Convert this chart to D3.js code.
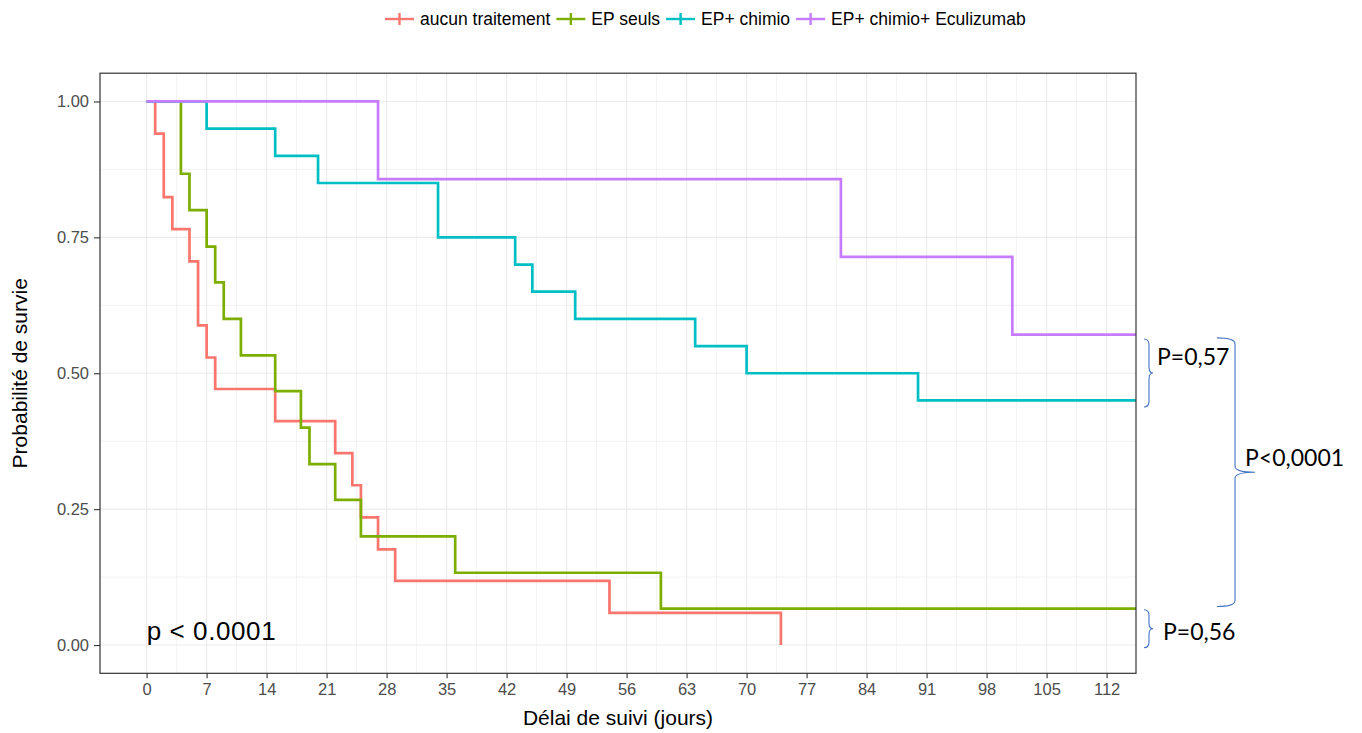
<!DOCTYPE html>
<html>
<head>
<meta charset="utf-8">
<script src="https://cdn.jsdelivr.net/npm/d3@7.9.0/dist/d3.min.js"></script>
<style>
  body { margin: 0; background: #fff; }
  svg { display: block; font-family: "Liberation Sans", Arial, sans-serif; }
</style>
</head>
<body>
<svg id="chart" width="1362" height="733"></svg>
<script>
// groupes (ordre du facteur) et couleurs ggplot
const groups = ['aucun traitement', 'EP seuls', 'EP+ chimio', 'EP+ chimio+ Eculizumab'];
const colors = ['#F8766D', '#7CAE00', '#00BFC4', '#C77CFF'];

// courbes de Kaplan-Meier : temps (jours) et survie
const timesNone = [0, 1, 2, 3, 5, 6, 7, 8, 15, 22, 24, 25, 27, 29, 54, 74];
const survNone  = [1, 0.941, 0.824, 0.765, 0.706, 0.588, 0.529, 0.471, 0.412, 0.353, 0.294, 0.235, 0.176, 0.118, 0.059, 0];

const timesEP = [0, 4, 5, 7, 8, 9, 11, 15, 18, 19, 22, 25, 36, 60, 120];
const survEP  = [1, 0.867, 0.8, 0.733, 0.667, 0.6, 0.533, 0.467, 0.4, 0.333, 0.267, 0.2, 0.133, 0.067, 0.067];

const timesChimio = [0, 7, 15, 20, 34, 43, 45, 50, 64, 70, 90, 120];
const survChimio  = [1, 0.95, 0.9, 0.85, 0.75, 0.7, 0.65, 0.6, 0.55, 0.5, 0.45, 0.45];

const timesEcu = [0, 27, 81, 101, 120];
const survEcu  = [1, 0.857, 0.714, 0.571, 0.571];

const xTicks = d3.range(0, 113, 7);
const yTicks = [0, 0.25, 0.5, 0.75, 1];
const yTickLabels = ['0.00', '0.25', '0.50', '0.75', '1.00'];

// comparaisons ajoutées à droite (bornes et libellé en unités de survie)
const comparisons = [
  { label: 'P=0,57', top: 0.563, bottom: 0.438, labelY: 0.516, big: false },
  { label: 'P<0,0001', top: 0.565, bottom: 0.071, labelY: 0.330, big: true },
  { label: 'P=0,56', top: 0.065, bottom: -0.005, labelY: 0.010, big: false }
];

const series = [
  [timesNone, survNone],
  [timesEP, survEP],
  [timesChimio, survChimio],
  [timesEcu, survEcu]
];

const svg = d3.select('#chart');
svg.append('rect').attr('width', 1362).attr('height', 733).attr('fill', '#fff');

const panel = { left: 100, right: 1136, top: 73.2, bottom: 673.3 };

const x = d3.scaleLinear().domain([-5.44, 115.43]).range([panel.left, panel.right]);
const y = d3.scaleLinear().domain([-0.052, 1.052]).range([panel.bottom, panel.top]);

// grille
const grid = svg.append('g');
const xMinor = d3.range(3.5, 115, 7);
const yMinor = [0.125, 0.375, 0.625, 0.875];
grid.selectAll('.vminor').data(xMinor).join('line')
  .attr('x1', d => x(d)).attr('x2', d => x(d))
  .attr('y1', panel.top).attr('y2', panel.bottom)
  .attr('stroke', '#EFEFEF').attr('stroke-width', 0.8);
grid.selectAll('.hminor').data(yMinor).join('line')
  .attr('y1', d => y(d)).attr('y2', d => y(d))
  .attr('x1', panel.left).attr('x2', panel.right)
  .attr('stroke', '#EFEFEF').attr('stroke-width', 0.8);
grid.selectAll('.vmajor').data(xTicks).join('line')
  .attr('x1', d => x(d)).attr('x2', d => x(d))
  .attr('y1', panel.top).attr('y2', panel.bottom)
  .attr('stroke', '#EBEBEB').attr('stroke-width', 1.1);
grid.selectAll('.hmajor').data(yTicks).join('line')
  .attr('y1', d => y(d)).attr('y2', d => y(d))
  .attr('x1', panel.left).attr('x2', panel.right)
  .attr('stroke', '#EBEBEB').attr('stroke-width', 1.1);

// courbes
svg.append('clipPath').attr('id', 'clip').append('rect')
  .attr('x', panel.left).attr('y', panel.top)
  .attr('width', panel.right - panel.left).attr('height', panel.bottom - panel.top);

const line = d3.line()
  .x(d => x(d[0]))
  .y(d => y(d[1]))
  .curve(d3.curveStepAfter);

svg.append('g').attr('clip-path', 'url(#clip)')
  .selectAll('path')
  .data(series)
  .join('path')
  .attr('d', s => line(s[0].map((t, i) => [t, s[1][i]])))
  .attr('fill', 'none')
  .attr('stroke', (d, i) => colors[i])
  .attr('stroke-width', 2.7);

// cadre
svg.append('rect')
  .attr('x', panel.left).attr('y', panel.top)
  .attr('width', panel.right - panel.left).attr('height', panel.bottom - panel.top)
  .attr('fill', 'none').attr('stroke', '#333').attr('stroke-width', 1.2);

// axes
const xAxis = svg.append('g')
  .attr('transform', `translate(0,${panel.bottom})`)
  .call(d3.axisBottom(x).tickValues(xTicks).tickSize(5).tickPadding(5));
xAxis.select('.domain').remove();
xAxis.selectAll('line').attr('stroke', '#333').attr('stroke-width', 1.1);
xAxis.selectAll('text').attr('fill', '#4D4D4D').attr('font-size', 16.5)
  .attr('font-family', '"Liberation Sans", Arial, sans-serif');

const yAxis = svg.append('g')
  .attr('transform', `translate(${panel.left},0)`)
  .call(d3.axisLeft(y).tickValues(yTicks).tickFormat((d, i) => yTickLabels[i]).tickSize(6).tickPadding(5));
yAxis.select('.domain').remove();
yAxis.selectAll('line').attr('stroke', '#333').attr('stroke-width', 1.1);
yAxis.selectAll('text').attr('fill', '#4D4D4D').attr('font-size', 16.5)
  .attr('font-family', '"Liberation Sans", Arial, sans-serif');

// titres des axes
svg.append('text')
  .attr('x', (panel.left + panel.right) / 2).attr('y', 725)
  .attr('text-anchor', 'middle').attr('font-size', 21).attr('fill', '#000')
  .text('Délai de suivi (jours)');

svg.append('text')
  .attr('transform', `translate(27,${(panel.top + panel.bottom) / 2}) rotate(-90)`)
  .attr('text-anchor', 'middle').attr('font-size', 21).attr('fill', '#000')
  .text('Probabilité de survie');

// p-value
svg.append('text')
  .attr('x', x(0)).attr('y', 640)
  .attr('font-size', 26).attr('letter-spacing', 0.6).attr('fill', '#000')
  .text('p < 0.0001');

// légende
const legend = svg.append('g').attr('transform', 'translate(385,19)');
let lx = 0;
groups.forEach((g, i) => {
  const item = legend.append('g').attr('transform', `translate(${lx},0)`);
  item.append('line').attr('x1', 0).attr('x2', 29).attr('y1', 0).attr('y2', 0)
    .attr('stroke', colors[i]).attr('stroke-width', 2.4);
  item.append('line').attr('x1', 14.5).attr('x2', 14.5).attr('y1', -6).attr('y2', 6)
    .attr('stroke', colors[i]).attr('stroke-width', 2.4);
  const t = item.append('text').attr('x', 35).attr('y', 6)
    .attr('font-size', 17.5).attr('fill', '#000').text(g);
  lx += 35 + t.node().getComputedTextLength() + 6;
});

// accolades de comparaison
const brace = (xEnd, xSpine, xTip, yTop, yBot) => {
  const yMid = (yTop + yBot) / 2;
  const r = Math.min(6, (yBot - yTop) / 6);
  return `M${xEnd},${yTop} Q${xSpine},${yTop} ${xSpine},${yTop + r}` +
    ` L${xSpine},${yMid - r} Q${xSpine},${yMid} ${xTip},${yMid}` +
    ` Q${xSpine},${yMid} ${xSpine},${yMid + r}` +
    ` L${xSpine},${yBot - r} Q${xSpine},${yBot} ${xEnd},${yBot}`;
};

const ann = svg.append('g');
comparisons.forEach(c => {
  const yt = y(c.top), yb = y(c.bottom);
  const geo = c.big ? [1217, 1235, 1255] : [1144, 1149, 1153];
  ann.append('path')
    .attr('d', brace(geo[0], geo[1], geo[2], yt, yb))
    .attr('fill', 'none').attr('stroke', '#4472C4').attr('stroke-width', 1.1);
  ann.append('text')
    .attr('x', c.big ? 1245 : (c.top > 0.3 ? 1157 : 1163))
    .attr('y', y(c.labelY))
    .attr('font-family', 'Lato, "Open Sans", sans-serif')
    .attr('font-size', 23).attr('fill', '#000')
    .text(c.label);
});
</script>
</body>
</html>
